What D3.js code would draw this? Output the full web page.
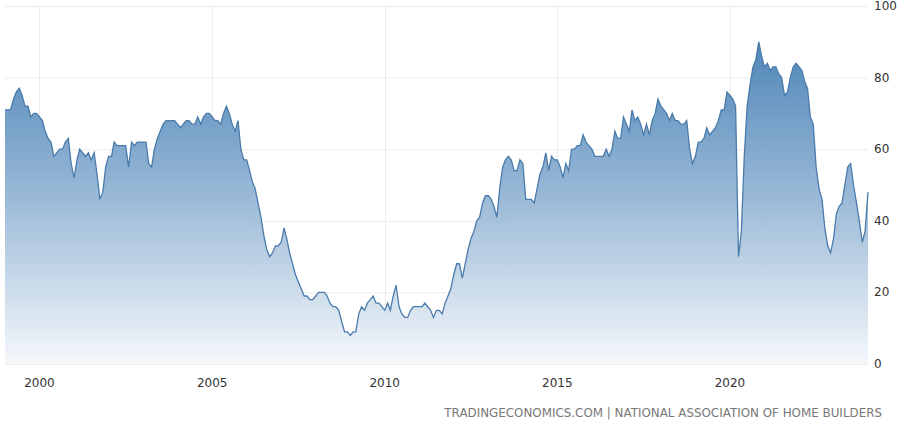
<!DOCTYPE html>
<html><head><meta charset="utf-8">
<script src="https://cdn.jsdelivr.net/npm/d3@7"></script>
<style>body{margin:0;background:#fff}svg{display:block;font-family:"DejaVu Sans",sans-serif}</style>
</head><body><svg id="c" width="900" height="424"></svg>
<script>
const startYear = 1999;
const values = [
71,71,71,74,76,77,75,72,72,69,70,70,
69,68,65,63,62,58,59,60,60,62,63,56,
52,57,60,59,58,59,57,59,53,46,48,55,
58,58,62,61,61,61,61,55,62,61,62,62,
62,62,56,55,60,63,65,67,68,68,68,68,
67,66,67,68,68,67,67,69,67,69,70,70,
69,68,68,67,70,72,70,67,65,68,60,57,
57,54,51,49,45,41,36,32,30,31,33,33,
34,38,35,31,28,25,23,21,19,19,18,18,
19,20,20,20,19,17,16,16,15,12,9,9,
8,9,9,14,16,15,17,18,19,17,17,16,
15,17,15,19,22,16,14,13,13,15,16,16,
16,16,17,16,15,13,15,15,14,17,19,21,
25,28,28,24,28,32,35,37,40,41,45,47,
47,46,44,41,49,55,57,58,57,54,54,57,
56,46,46,46,45,49,53,55,59,54,58,57,
57,55,52,56,54,60,60,61,61,64,62,61,
60,58,58,58,58,60,58,60,65,63,63,69,
67,65,71,68,69,67,64,67,64,68,70,74,
72,71,70,68,70,68,68,67,67,68,60,56,
58,62,62,63,66,64,65,66,68,71,71,76,
75,74,72,30,37,58,72,78,83,85,90,86,
83,84,82,83,83,81,80,75,76,80,83,84,
83,82,79,77,69,67,55,49,46,38,33,31,
35,42,44,45,50,55,56,50,45,40,34,37,
48];
const yTicks = [0,20,40,60,80,100];
const xTickYears = [2000,2005,2010,2015,2020];
const sourceText = "TRADINGECONOMICS.COM | NATIONAL ASSOCIATION OF HOME BUILDERS";

const data = values.map((v,i)=>({d:new Date(startYear, i, 1), v}));
const svg = d3.select("#c");
const x = d3.scaleTime().domain([new Date(1999,0,1), new Date(2024,0,1)]).range([5,868]);
const y = d3.scaleLinear().domain([0,100]).range([364,6]);

const defs = svg.append("defs");
const g = defs.append("linearGradient").attr("id","gr").attr("gradientUnits","userSpaceOnUse")
  .attr("x1",0).attr("x2",0).attr("y1",y(90)).attr("y2",y(0));
g.append("stop").attr("offset",0).attr("stop-color","#4f86b8");
g.append("stop").attr("offset",0.5).attr("stop-color","#9dbbd8");
g.append("stop").attr("offset",1).attr("stop-color","#f5f8fb");

svg.append("g").selectAll("line").data(yTicks).join("line")
  .attr("x1",5).attr("x2",868).attr("y1",d=>y(d)+0.5).attr("y2",d=>y(d)+0.5)
  .attr("stroke","#ececec");
svg.append("g").selectAll("line").data(xTickYears).join("line")
  .attr("x1",d=>Math.round(x(new Date(d,0,1)))+0.5).attr("x2",d=>Math.round(x(new Date(d,0,1)))+0.5)
  .attr("y1",6).attr("y2",364).attr("stroke","#ececec");

svg.append("path").datum(data).attr("fill","url(#gr)")
  .attr("d",d3.area().x(d=>x(d.d)).y0(y(0)).y1(d=>y(d.v)));
svg.append("path").datum(data).attr("fill","none").attr("stroke","#4a7bab").attr("stroke-width",1.3)
  .attr("d",d3.line().x(d=>x(d.d)).y(d=>y(d.v)));

svg.append("g").selectAll("text").data(yTicks).join("text")
  .attr("x",874).attr("y",d=>y(d)+4).attr("font-size",12).attr("fill","#333").text(d=>d);
svg.append("g").selectAll("text").data(xTickYears).join("text")
  .attr("x",d=>x(new Date(d,0,1))).attr("y",387).attr("text-anchor","middle")
  .attr("font-size",12).attr("fill","#333").text(d=>d);
svg.append("text").attr("x",882).attr("y",417).attr("text-anchor","end")
  .attr("font-size",11.9).attr("fill","#777").text(sourceText);
</script></body></html>
